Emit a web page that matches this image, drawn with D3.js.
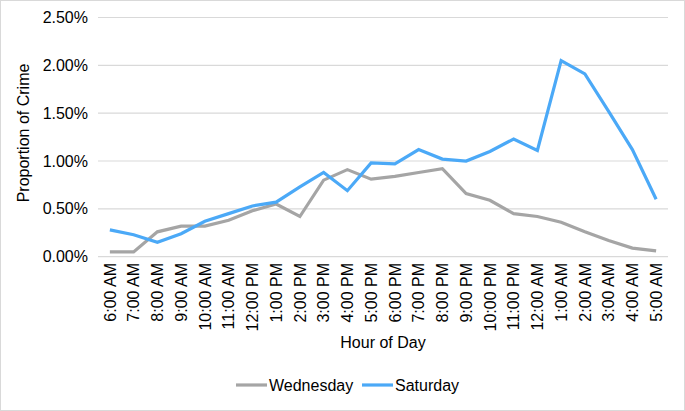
<!DOCTYPE html>
<html>
<head>
<meta charset="utf-8">
<script src="https://cdn.jsdelivr.net/npm/d3@7"></script>
<style>
  body { margin: 0; background: #fff; }
  text { font-family: "Liberation Sans", Arial, sans-serif; fill: #000; }
</style>
</head>
<body>
<svg width="685" height="411"></svg>
<script>
const hours = ["6:00 AM", "7:00 AM", "8:00 AM", "9:00 AM", "10:00 AM", "11:00 AM", "12:00 PM",
  "1:00 PM", "2:00 PM", "3:00 PM", "4:00 PM", "5:00 PM", "6:00 PM", "7:00 PM", "8:00 PM",
  "9:00 PM", "10:00 PM", "11:00 PM", "12:00 AM", "1:00 AM", "2:00 AM", "3:00 AM", "4:00 AM", "5:00 AM"];

const wednesday = [0.05, 0.05, 0.26, 0.32, 0.32, 0.38, 0.48, 0.55, 0.42, 0.80, 0.91, 0.81,
  0.84, 0.88, 0.92, 0.66, 0.59, 0.45, 0.42, 0.36, 0.26, 0.17, 0.09, 0.06];

const saturday = [0.28, 0.23, 0.15, 0.24, 0.37, 0.45, 0.53, 0.57, 0.73, 0.88, 0.69, 0.98,
  0.97, 1.12, 1.02, 1.00, 1.10, 1.23, 1.11, 2.05, 1.91, 1.52, 1.12, 0.60];

const yTicks = [0, 0.5, 1.0, 1.5, 2.0, 2.5];

const series = [
  { name: "Wednesday", values: wednesday, color: "#a5a5a5" },
  { name: "Saturday", values: saturday, color: "#4ba9f7" }
];

const svg = d3.select("svg");

// light frame around the figure
svg.append("rect")
  .attr("x", 0.5).attr("y", 0.5)
  .attr("width", 684).attr("height", 410)
  .attr("fill", "none")
  .attr("stroke", "#d9d9d9");

const x = d3.scaleBand()
  .domain(hours)
  .range([98, 668]);

const y = d3.scaleLinear()
  .domain([0, 2.5])
  .range([256.7, 17.5]);

// gridlines
svg.selectAll(".grid")
  .data(yTicks)
  .enter()
  .append("line")
  .attr("x1", 98)
  .attr("x2", 668)
  .attr("y1", d => y(d))
  .attr("y2", d => y(d))
  .attr("stroke", "#d9d9d9")
  .attr("stroke-width", 1.2);

// y tick labels
svg.selectAll(".ylab")
  .data(yTicks)
  .enter()
  .append("text")
  .attr("x", 88)
  .attr("y", d => y(d))
  .attr("dy", "0.35em")
  .attr("text-anchor", "end")
  .attr("font-size", "16px")
  .text(d => d.toFixed(2) + "%");

// x tick labels, rotated
svg.selectAll(".xlab")
  .data(hours)
  .enter()
  .append("text")
  .attr("transform", d => `translate(${x(d) + x.bandwidth() / 2},263) rotate(-90)`)
  .attr("dy", "0.36em")
  .attr("text-anchor", "end")
  .attr("font-size", "16px")
  .text(d => d);

const line = d3.line()
  .x((d, i) => x(hours[i]) + x.bandwidth() / 2)
  .y(d => y(d));

svg.selectAll(".series")
  .data(series)
  .enter()
  .append("path")
  .attr("d", d => line(d.values))
  .attr("fill", "none")
  .attr("stroke", d => d.color)
  .attr("stroke-width", 3.2)
  .attr("stroke-linejoin", "miter");

// axis titles
svg.append("text")
  .attr("transform", "translate(29,133) rotate(-90)")
  .attr("text-anchor", "middle")
  .attr("font-size", "16px")
  .text("Proportion of Crime");

svg.append("text")
  .attr("x", 383)
  .attr("y", 348)
  .attr("text-anchor", "middle")
  .attr("font-size", "16px")
  .text("Hour of Day");

// legend
const legendX = [236, 362];
const legend = svg.selectAll(".legend")
  .data(series)
  .enter()
  .append("g")
  .attr("transform", (d, i) => `translate(${legendX[i]},385)`);

legend.append("line")
  .attr("x1", 0).attr("x2", 31)
  .attr("stroke", d => d.color)
  .attr("stroke-width", 3.2);

legend.append("text")
  .attr("x", 33)
  .attr("dy", "0.35em")
  .attr("font-size", "16px")
  .text(d => d.name);
</script>
</body>
</html>
